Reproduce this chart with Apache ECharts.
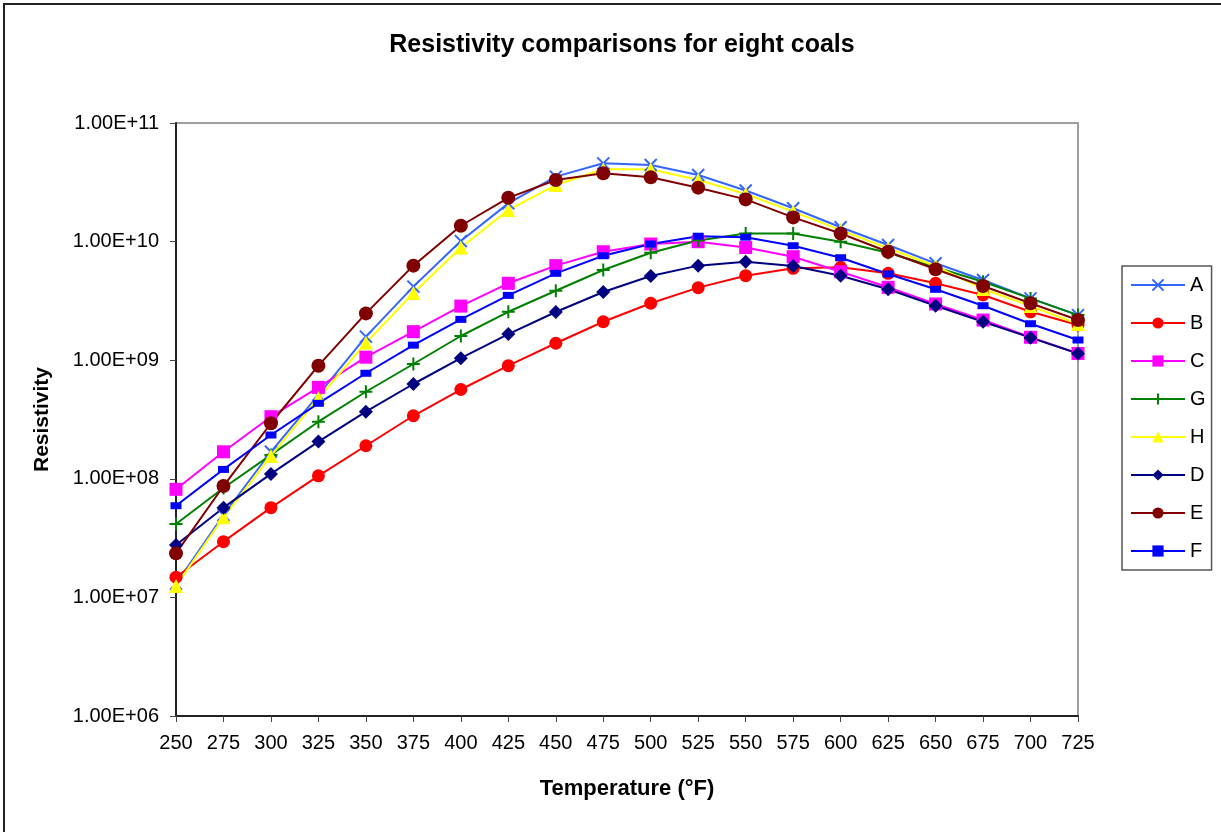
<!DOCTYPE html>
<html>
<head>
<meta charset="utf-8">
<script src="https://cdn.jsdelivr.net/npm/echarts@6/dist/echarts.min.js"></script>
<style>
  html, body { margin: 0; padding: 0; background: #fff; }
  #container { width: 1221px; height: 832px; }
</style>
</head>
<body>
<div id="container"></div>
<script>
// temperatures (deg F)
var temps = ['250', '275', '300', '325', '350', '375', '400', '425', '450', '475',
             '500', '525', '550', '575', '600', '625', '650', '675', '700', '725'];

// resistivity values
var coalA = [1.30e7, 4.95e7, 1.69e8, 5.09e8, 1.58e9, 4.17e9, 1.01e10, 2.10e10, 3.53e10, 4.57e10,
             4.42e10, 3.64e10, 2.70e10, 1.91e10, 1.32e10, 9.36e9, 6.56e9, 4.75e9, 3.32e9, 2.40e9];
var coalB = [1.48e7, 2.95e7, 5.71e7, 1.06e8, 1.90e8, 3.40e8, 5.66e8, 8.99e8, 1.39e9, 2.11e9,
             3.02e9, 4.09e9, 5.16e9, 5.95e9, 6.07e9, 5.40e9, 4.45e9, 3.55e9, 2.56e9, 1.98e9];
var coalC = [8.15e7, 1.69e8, 3.34e8, 5.90e8, 1.06e9, 1.74e9, 2.86e9, 4.45e9, 6.27e9, 8.22e9,
             9.54e9, 9.98e9, 8.91e9, 7.46e9, 5.57e9, 4.12e9, 2.98e9, 2.18e9, 1.56e9, 1.14e9];
var coalG = [4.16e7, 8.36e7, 1.59e8, 3.03e8, 5.42e8, 9.29e8, 1.60e9, 2.56e9, 3.85e9, 5.76e9,
             8.06e9, 1.02e10, 1.17e10, 1.17e10, 9.98e9, 8.06e9, 6.07e9, 4.59e9, 3.32e9, 2.40e9];
var coalH = [1.25e7, 4.73e7, 1.56e8, 4.80e8, 1.40e9, 3.69e9, 8.91e9, 1.85e10, 3.00e10, 4.07e10,
             4.07e10, 3.31e10, 2.52e10, 1.79e10, 1.25e10, 8.79e9, 6.23e9, 3.98e9, 2.86e9, 2.02e9];
var coalD = [2.77e7, 5.71e7, 1.10e8, 2.06e8, 3.68e8, 6.30e8, 1.04e9, 1.66e9, 2.55e9, 3.76e9,
             5.13e9, 6.27e9, 6.77e9, 6.23e9, 5.16e9, 3.96e9, 2.88e9, 2.11e9, 1.55e9, 1.14e9];
var coalE = [2.35e7, 8.69e7, 2.94e8, 8.99e8, 2.48e9, 6.27e9, 1.36e10, 2.34e10, 3.31e10, 3.77e10,
             3.49e10, 2.85e10, 2.27e10, 1.60e10, 1.17e10, 8.22e9, 5.84e9, 4.22e9, 3.02e9, 2.18e9];
var coalF = [5.93e7, 1.20e8, 2.34e8, 4.33e8, 7.76e8, 1.34e9, 2.21e9, 3.52e9, 5.40e9, 7.60e9,
             9.54e9, 1.11e10, 1.09e10, 9.23e9, 7.31e9, 5.33e9, 3.96e9, 2.88e9, 2.03e9, 1.48e9];

var FONT = '"Liberation Sans", Arial, sans-serif';

function sci(v) {
  var e = Math.round(Math.log10(v));
  var s = e < 0 ? '-' : '+';
  var a = Math.abs(e);
  return '1.00E' + s + (a < 10 ? '0' + a : a);
}

function mk(name, data, color, symbol, size, stroke) {
  return {
    name: name,
    type: 'line',
    data: data,
    symbol: symbol,
    symbolSize: size,
    showAllSymbol: true,
    lineStyle: { color: color, width: 2 },
    itemStyle: stroke
      ? { color: color, borderColor: color, borderWidth: 2 }
      : { color: color, borderWidth: 0 },
    emphasis: { disabled: true },
    animation: false
  };
}

var dom = document.getElementById('container');
var chart = echarts.init(dom, null, { renderer: 'canvas' });

chart.setOption({
  backgroundColor: '#fff',
  animation: false,
  textStyle: { fontFamily: FONT },
  title: {
    text: 'Resistivity comparisons for eight coals',
    left: 617,
    top: 28,
    textAlign: 'center',
    textStyle: { fontFamily: FONT, fontSize: 25, fontWeight: 'bold', color: '#000' }
  },
  graphic: [{
    type: 'rect',
    shape: { x: 4, y: 4, width: 1300, height: 900 },
    style: { fill: 'none', stroke: '#222', lineWidth: 2 },
    silent: true
  }],
  legend: {
    orient: 'vertical',
    left: 1122,
    top: 266,
    width: 90,
    padding: [9, 6, 9, 8],
    itemGap: 18,
    itemWidth: 54,
    itemHeight: 14,
    borderColor: '#555',
    borderWidth: 1.5,
    textStyle: { fontFamily: FONT, fontSize: 20, color: '#000' },
    data: ['A', 'B', 'C', 'G', 'H', 'D', 'E', 'F']
  },
  grid: {
    left: 176,
    right: 143,
    top: 123,
    bottom: 116,
    show: true,
    borderColor: '#808080',
    borderWidth: 1.5,
    containLabel: false
  },
  xAxis: {
    type: 'category',
    data: temps,
    boundaryGap: false,
    name: 'Temperature (°F)',
    nameLocation: 'middle',
    nameGap: 62,
    nameTextStyle: { fontFamily: FONT, fontSize: 22, fontWeight: 'bold', color: '#000' },
    axisLine: { lineStyle: { color: '#222', width: 2 } },
    axisTick: { show: true, length: 6, lineStyle: { color: '#444', width: 1 } },
    axisLabel: { fontFamily: FONT, fontSize: 20, color: '#000', margin: 17 },
    splitLine: { show: false }
  },
  yAxis: {
    type: 'log',
    logBase: 10,
    min: 1e6,
    max: 1e11,
    name: 'Resistivity',
    nameLocation: 'middle',
    nameGap: 123,
    nameTextStyle: { fontFamily: FONT, fontSize: 21, fontWeight: 'bold', color: '#000' },
    axisLine: { show: true, lineStyle: { color: '#222', width: 2 } },
    axisTick: { show: true, length: 6, lineStyle: { color: '#444', width: 1 } },
    axisLabel: { fontFamily: FONT, fontSize: 20, color: '#000', margin: 17, formatter: sci },
    splitLine: { show: false },
    minorTick: { show: false }
  },
  series: [
    mk('A', coalA, '#3366FF', 'path://M0,0L10,10M10,0L0,10', 12, true),
    mk('B', coalB, '#FF0000', 'circle', 13),
    mk('C', coalC, '#FF00FF', 'rect', 13),
    mk('G', coalG, '#008000', 'path://M5,0L5,10M0,5L10,5', 13, true),
    mk('H', coalH, '#FFFF00', 'triangle', 14),
    mk('D', coalD, '#000080', 'diamond', 14),
    mk('E', coalE, '#800000', 'circle', 14),
    mk('F', coalF, '#0000FF', 'rect', [11, 7])
  ]
});

window.addEventListener('resize', function () { chart.resize(); });
</script>
</body>
</html>
